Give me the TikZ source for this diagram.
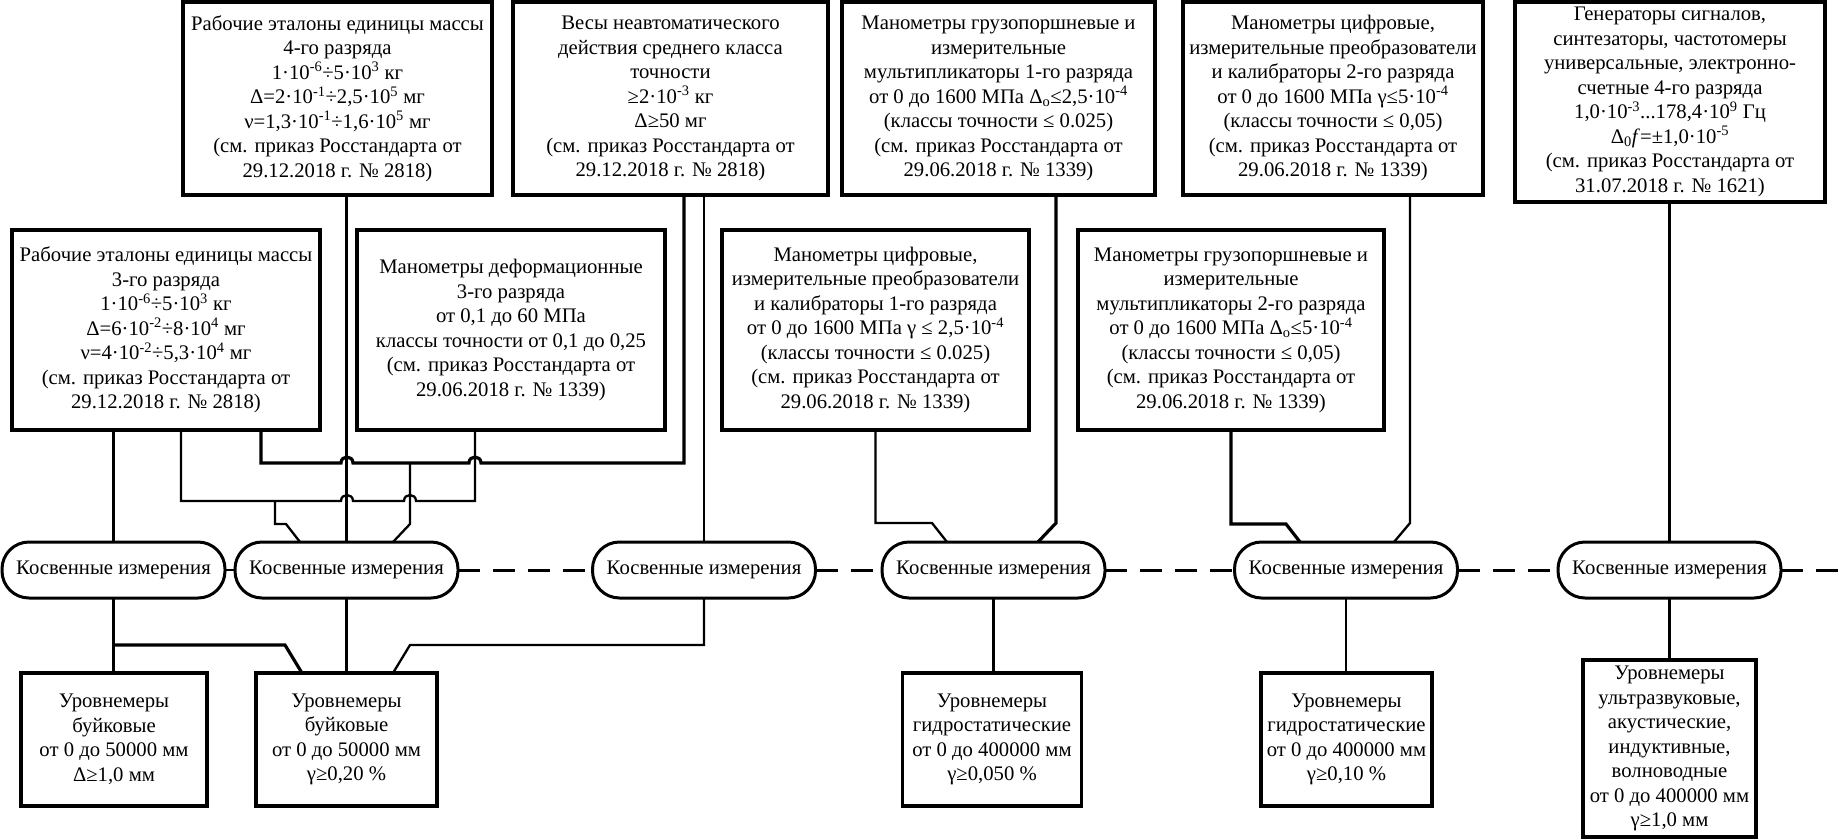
\documentclass[tikz,border=0pt]{standalone}
\usepackage{fontspec}
\setmainfont{Liberation Serif}
\newcommand{\fs}{\fontsize{20.7}{24.5}\selectfont}
\newcommand{\sps}[1]{\textsuperscript{#1}}
\newcommand{\sbs}[1]{\textsubscript{#1}}
\newcommand{\myhop}[2]{-- (#1-6,#2) .. controls (#1-6,#2-8) and (#1+6,#2-8) .. (#1+6,#2)}
\begin{document}
\begin{tikzpicture}[x=1pt,y=-1pt,
  box/.style={draw,line width=3.3pt,align=center,inner sep=1pt,outer sep=0pt,font=\fs},
  ov/.style={draw,line width=3pt,rounded corners=27pt,minimum width=223pt,minimum height=56pt,inner sep=0pt,outer sep=0pt,font=\fs},
  wire/.style={line width=2.3pt},
  bwire/.style={line width=3.2pt},
  dsh/.style={line width=3pt,dash pattern=on 22pt off 13pt}]
\useasboundingbox (0,0) rectangle (1838,838);

% top row
\node[box,minimum width=309pt,minimum height=193pt] (T1) at (337.5,98.5) {Рабочие эталоны единицы массы\\4-го разряда\\1·10\sps{-6}÷5·10\sps{3} кг\\Δ=2·10\sps{-1}÷2,5·10\sps{5} мг\\ν=1,3·10\sps{-1}÷1,6·10\sps{5} мг\\(см. приказ Росстандарта от\\29.12.2018 г. № 2818)};
\node[box,minimum width=315pt,minimum height=193pt] (T2) at (670.5,98.5) {Весы неавтоматического\\действия среднего класса\\точности\\≥2·10\sps{-3} кг\\Δ≥50 мг\\(см. приказ Росстандарта от\\29.12.2018 г. № 2818)};
\node[box,minimum width=313pt,minimum height=193pt] (T3) at (998.5,98.5) {Манометры грузопоршневые и\\измерительные\\мультипликаторы 1-го разряда\\от 0 до 1600 МПа Δ\sbs{о}≤2,5·10\sps{-4}\\(классы точности ≤ 0.025)\\(см. приказ Росстандарта от\\29.06.2018 г. № 1339)};
\node[box,minimum width=300pt,minimum height=193pt] (T4) at (1333,98.5) {Манометры цифровые,\\измерительные преобразователи\\и калибраторы 2-го разряда\\от 0 до 1600 МПа γ≤5·10\sps{-4}\\(классы точности ≤ 0,05)\\(см. приказ Росстандарта от\\29.06.2018 г. № 1339)};
\node[box,minimum width=310pt,minimum height=200pt] (T5) at (1670,102) {Генераторы сигналов,\\синтезаторы, частотомеры\\универсальные, электронно-\\счетные 4-го разряда\\1,0·10\sps{-3}...178,4·10\sps{9} Гц\\Δ\sbs{0}\textit{f}=±1,0·10\sps{-5}\\(см. приказ Росстандарта от\\31.07.2018 г. № 1621)};

% middle row
\node[box,minimum width=308pt,minimum height=200pt] (L1) at (166,330) {Рабочие эталоны единицы массы\\3-го разряда\\1·10\sps{-6}÷5·10\sps{3} кг\\Δ=6·10\sps{-2}÷8·10\sps{4} мг\\ν=4·10\sps{-2}÷5,3·10\sps{4} мг\\(см. приказ Росстандарта от\\29.12.2018 г. № 2818)};
\node[box,minimum width=308pt,minimum height=200pt] (L2) at (511,330) {Манометры деформационные\\3-го разряда\\от 0,1 до 60 МПа\\классы точности от 0,1 до 0,25\\(см. приказ Росстандарта от\\29.06.2018 г. № 1339)};
\node[box,minimum width=307pt,minimum height=200pt] (C1) at (875.5,330) {Манометры цифровые,\\измерительные преобразователи\\и калибраторы 1-го разряда\\от 0 до 1600 МПа γ ≤ 2,5·10\sps{-4}\\(классы точности ≤ 0.025)\\(см. приказ Росстандарта от\\29.06.2018 г. № 1339)};
\node[box,minimum width=306pt,minimum height=200pt] (C2) at (1231,330) {Манометры грузопоршневые и\\измерительные\\мультипликаторы 2-го разряда\\от 0 до 1600 МПа Δ\sbs{о}≤5·10\sps{-4}\\(классы точности ≤ 0,05)\\(см. приказ Росстандарта от\\29.06.2018 г. № 1339)};

% ovals
\node[ov] (O1) at (113.5,570) {Косвенные измерения};
\node[ov] (O2) at (346.5,570) {Косвенные измерения};
\node[ov] (O3) at (704,570) {Косвенные измерения};
\node[ov] (O4) at (993.5,570) {Косвенные измерения};
\node[ov] (O5) at (1346,570) {Косвенные измерения};
\node[ov] (O6) at (1669.5,570) {Косвенные измерения};

% bottom row
\node[box,minimum width=186pt,minimum height=133pt] (B1) at (114,739.5) {Уровнемеры\\буйковые\\от 0 до 50000 мм\\Δ≥1,0 мм};
\node[box,minimum width=181pt,minimum height=133pt] (B2) at (346.5,739.5) {Уровнемеры\\буйковые\\от 0 до 50000 мм\\γ≥0,20 \%};
\node[box,minimum width=179pt,minimum height=133pt] (B3) at (992,739.5) {Уровнемеры\\гидростатические\\от 0 до 400000 мм\\γ≥0,050 \%};
\node[box,minimum width=171pt,minimum height=133pt] (B4) at (1346.5,739.5) {Уровнемеры\\гидростатические\\от 0 до 400000 мм\\γ≥0,10 \%};
\node[box,minimum width=173pt,minimum height=177pt] (B5) at (1669.5,748.5) {Уровнемеры\\ультразвуковые,\\акустические,\\индуктивные,\\волноводные\\от 0 до 400000 мм\\γ≥1,0 мм};

% junction coordinates
\coordinate (jA1) at (181,501);
\coordinate (jA2) at (475,501);
\coordinate (jA3) at (275,501);
\coordinate (jA4) at (275,524);
\coordinate (jA5) at (286,524);
\coordinate (jB1) at (261,463);
\coordinate (jB2) at (684,463);
\coordinate (jB3) at (410,463);
\coordinate (jB4) at (410,524);
\coordinate (jC1) at (875.5,523);
\coordinate (jC2) at (932,523);
\coordinate (jT3) at (1056,523);
\coordinate (jC3) at (1231,524);
\coordinate (jC4) at (1286,524);
\coordinate (jT4) at (1410,523);
\coordinate (jL1) at (113.5,645);
\coordinate (jL2) at (285,645);
\coordinate (jL3) at (704,645);
\coordinate (jL4) at (410,645);
\coordinate (rEnd) at (1838,570);

% upper connectors
\draw[wire] (L1.south -| O1.north) -- (O1.north);
\draw[wire] (L1.south -| jA1) -- (jA1) \myhop{347}{501} \myhop{410}{501} -- (jA2) -- (L2.south -| jA2);
\draw[wire] (jA3) -- (jA4) -- (jA5) -- ([xshift=-46.5pt]O2.north);
\draw[bwire] (L1.south -| jB1) -- (jB1) \myhop{347}{463} \myhop{475}{463} -- (jB2) -- (T2.south -| jB2);
\draw[wire] (jB3) -- (jB4) -- ([xshift=46.5pt]O2.north);
\draw[wire] (T1.south -| O2.north) -- (O2.north);
\draw[wire] (T2.south -| O3.north) -- (O3.north);
\draw[wire] (C1.south) -- (jC1) -- (jC2) -- ([xshift=-46.5pt]O4.north);
\draw[bwire] (T3.south -| jT3) -- (jT3) -- ([xshift=44.5pt]O4.north);
\draw[bwire] (C2.south) -- (jC3) -- (jC4) -- ([xshift=-46pt]O5.north);
\draw[wire] (T4.south -| jT4) -- (jT4) -- ([xshift=48pt]O5.north);
\draw[wire] (T5.south -| O6.north) -- (O6.north);

% oval chain
\draw[wire] (O1.east) -- (O2.west);
\draw[dsh] (O2.east) -- (O3.west);
\draw[dsh] (O3.east) -- (O4.west);
\draw[dsh] (O4.east) -- (O5.west);
\draw[dsh] (O5.east) -- (O6.west);
\draw[dsh] (O6.east) -- (rEnd);

% lower connectors
\draw[wire] (O1.south) -- (jL1) -- (B1.north -| jL1);
\draw[bwire] (jL1) -- (jL2) -- ([xshift=-44.5pt]B2.north);
\draw[wire] (O2.south) -- (B2.north -| O2.south);
\draw[wire] (O3.south) -- (jL3) -- (jL4) -- ([xshift=46.5pt]B2.north);
\draw[wire] (O4.south) -- (B3.north -| O4.south);
\draw[wire] (O5.south) -- (B4.north -| O5.south);
\draw[wire] (O6.south) -- (B5.north -| O6.south);
\end{tikzpicture}
\end{document}
